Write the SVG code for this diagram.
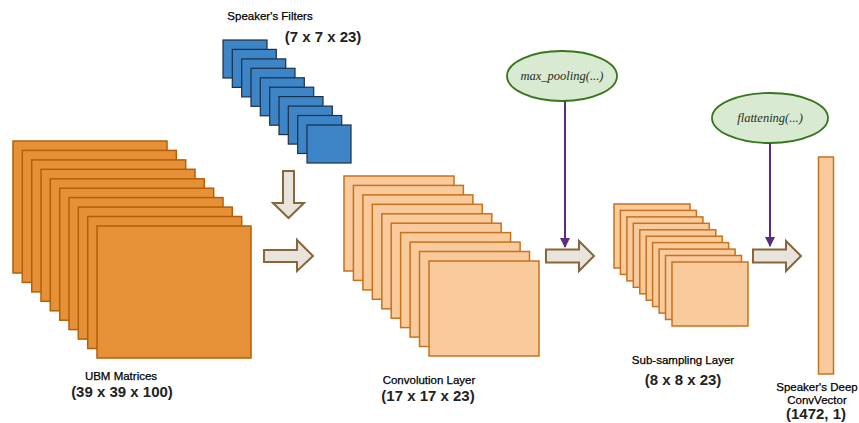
<svg xmlns="http://www.w3.org/2000/svg" width="859" height="423" viewBox="0 0 859 423">
<style>
.ubm{fill:#E69138;stroke:#B45F06;stroke-width:1.5}
.conv{fill:#F9CB9C;stroke:#C6721E;stroke-width:1.5}
.filt{fill:#3D85C6;stroke:#1B2F45;stroke-width:1.2}
.blk{fill:#E8E3DB;stroke:#86663A;stroke-width:2;stroke-linejoin:miter}
.ell{fill:#D9EAD3;stroke:#38761D;stroke-width:1.8}
.op{font-family:"Liberation Serif",serif;font-style:italic;font-size:12.5px;fill:#1E2E1A;text-anchor:middle}
.lbl{font-family:"Liberation Sans",Arial,sans-serif;font-size:11.5px;fill:#000;stroke:#000;stroke-width:0.25;text-anchor:middle}
.dim{font-family:"Liberation Sans",Arial,sans-serif;font-size:15px;font-weight:bold;fill:#222;text-anchor:middle}
.pl{stroke:#5B2C83;stroke-width:2;fill:none}
</style>
<defs>
<marker id="ph" viewBox="0 0 10 10" refX="9" refY="5" markerWidth="5" markerHeight="5.5" orient="auto" markerUnits="strokeWidth">
<path d="M0,0 L10,5 L0,10 z" fill="#5B2C83"/>
</marker>
</defs>

<g id="filters">
<rect class="filt" x="223" y="40" width="44" height="38"/>
<rect class="filt" x="232.3" y="49.4" width="44" height="38"/>
<rect class="filt" x="241.7" y="58.9" width="44" height="38"/>
<rect class="filt" x="251" y="68.3" width="44" height="38"/>
<rect class="filt" x="260.3" y="77.8" width="44" height="38"/>
<rect class="filt" x="269.7" y="87.2" width="44" height="38"/>
<rect class="filt" x="279" y="96.6" width="44" height="38"/>
<rect class="filt" x="288.3" y="106.1" width="44" height="38"/>
<rect class="filt" x="297.7" y="115.5" width="44" height="38"/>
<rect class="filt" x="307" y="125" width="44" height="38"/>
<text class="lbl" x="270" y="20">Speaker's Filters</text>
<text class="dim" x="323" y="42">(7 x 7 x 23)</text>
</g>

<g id="ubm">
<rect class="ubm" x="13" y="141" width="154" height="132"/>
<rect class="ubm" x="22.3" y="150.4" width="154" height="132"/>
<rect class="ubm" x="31.7" y="159.9" width="154" height="132"/>
<rect class="ubm" x="41" y="169.3" width="154" height="132"/>
<rect class="ubm" x="50.3" y="178.8" width="154" height="132"/>
<rect class="ubm" x="59.7" y="188.2" width="154" height="132"/>
<rect class="ubm" x="69" y="197.6" width="154" height="132"/>
<rect class="ubm" x="78.3" y="207.1" width="154" height="132"/>
<rect class="ubm" x="87.7" y="216.5" width="154" height="132"/>
<rect class="ubm" x="97" y="226" width="154" height="132"/>
<text class="lbl" x="121" y="380">UBM Matrices</text>
<text class="dim" x="122" y="397">(39 x 39 x 100)</text>
</g>

<g id="conv">
<rect class="conv" x="344" y="176" width="110" height="95"/>
<rect class="conv" x="353.4" y="185.4" width="110" height="95"/>
<rect class="conv" x="362.9" y="194.9" width="110" height="95"/>
<rect class="conv" x="372.3" y="204.3" width="110" height="95"/>
<rect class="conv" x="381.8" y="213.8" width="110" height="95"/>
<rect class="conv" x="391.2" y="223.2" width="110" height="95"/>
<rect class="conv" x="400.6" y="232.6" width="110" height="95"/>
<rect class="conv" x="410.1" y="242.1" width="110" height="95"/>
<rect class="conv" x="419.5" y="251.5" width="110" height="95"/>
<rect class="conv" x="429" y="261" width="110" height="95"/>
<text class="lbl" x="429" y="384">Convolution Layer</text>
<text class="dim" x="428" y="401">(17 x 17 x 23)</text>
</g>

<g id="subsampling">
<rect class="conv" x="614" y="204" width="76" height="64"/>
<rect class="conv" x="620.4" y="210.4" width="76" height="64"/>
<rect class="conv" x="626.9" y="216.9" width="76" height="64"/>
<rect class="conv" x="633.3" y="223.3" width="76" height="64"/>
<rect class="conv" x="639.8" y="229.8" width="76" height="64"/>
<rect class="conv" x="646.2" y="236.2" width="76" height="64"/>
<rect class="conv" x="652.6" y="242.6" width="76" height="64"/>
<rect class="conv" x="659.1" y="249.1" width="76" height="64"/>
<rect class="conv" x="665.5" y="255.5" width="76" height="64"/>
<rect class="conv" x="672" y="262" width="76" height="64"/>
<text class="lbl" x="683" y="364">Sub-sampling Layer</text>
<text class="dim" x="683" y="385">(8 x 8 x 23)</text>
</g>

<g id="vector">
<rect class="conv" x="818.5" y="157" width="15" height="217"/>
<text class="lbl" x="817" y="391">Speaker's Deep</text>
<text class="lbl" x="817" y="404">ConvVector</text>
<text class="dim" x="816" y="419">(1472, 1)</text>
</g>

<g id="maxpool">
<ellipse class="ell" cx="562" cy="76" rx="55" ry="25"/>
<text class="op" x="562" y="80">max_pooling(...)</text>
</g>

<g id="flatten">
<ellipse class="ell" cx="770" cy="118" rx="58" ry="25"/>
<text class="op" x="770" y="122">flattening(...)</text>
</g>

<g id="connectors">
<polygon class="blk" points="283,171 294,171 294,203 304,203 288.5,218 273,203 283,203"/>
<polygon class="blk" points="264,250 297,250 297,240 313,256 297,271 297,262 264,262"/>
<polygon class="blk" points="546,249.5 579,249.5 579,241 594,256 579,271 579,262.5 546,262.5"/>
<polygon class="blk" points="753,249.5 786,249.5 786,241 801,256 786,271 786,262.5 753,262.5"/>
<line class="pl" x1="565" y1="101" x2="565" y2="247" marker-end="url(#ph)"/>
<line class="pl" x1="770" y1="143" x2="770" y2="246" marker-end="url(#ph)"/>
</g>
</svg>
